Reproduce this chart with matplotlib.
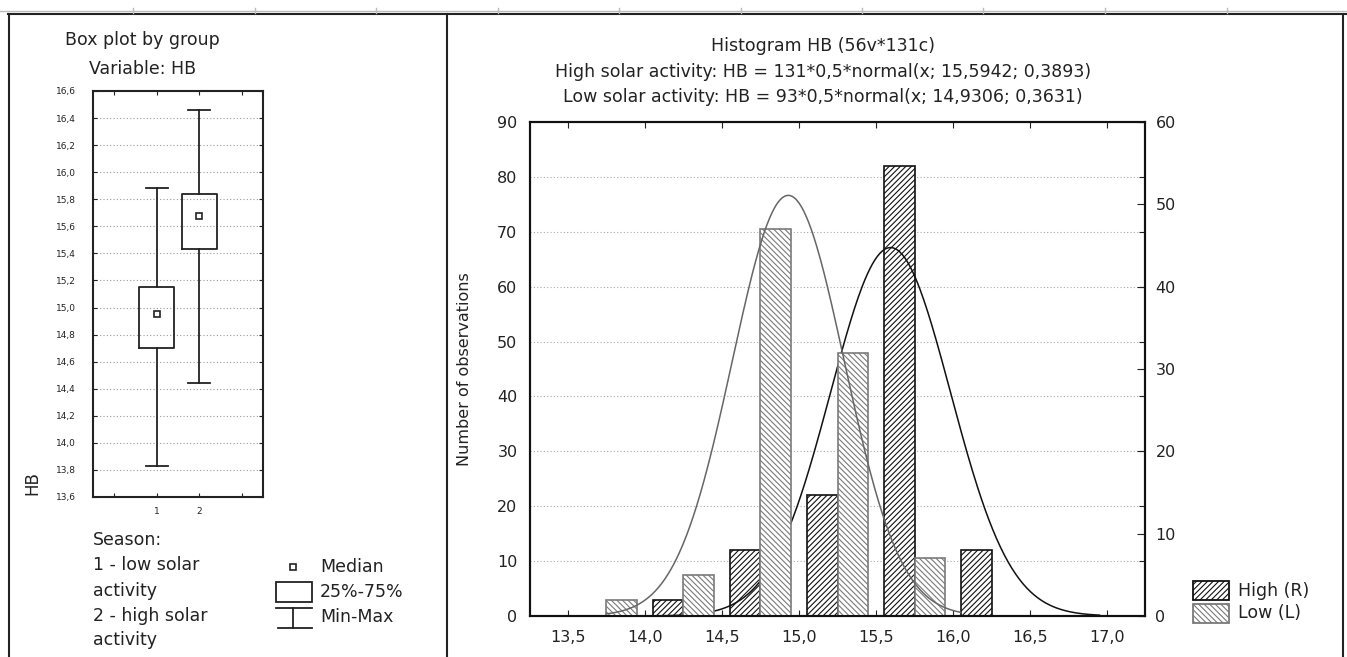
import numpy as np
import matplotlib
matplotlib.use("Agg")
import matplotlib.pyplot as plt
from matplotlib.lines import Line2D
from matplotlib.patches import Rectangle
from matplotlib.ticker import FuncFormatter, MultipleLocator

# ---------------- data ----------------
groups = [1, 2]
box_min = [13.83, 14.44]
box_q1 = [14.70, 15.43]
box_median = [14.95, 15.68]
box_q3 = [15.15, 15.84]
box_max = [15.88, 16.46]

bin_centers = [14.0, 14.5, 15.0, 15.5, 16.0]
high_counts = [3, 12, 22, 82, 12]       # left axis
low_counts = [2, 5, 47, 32, 7]          # right axis

high_n, high_mean, high_sd = 131, 15.5942, 0.3893
low_n, low_mean, low_sd = 93, 14.9306, 0.3631
bin_width = 0.5

hist_xticks = [13.5, 14.0, 14.5, 15.0, 15.5, 16.0, 16.5, 17.0]

W, H = 1347, 657
plt.rcParams['font.family'] = ['DejaVu Sans']
plt.rcParams['hatch.linewidth'] = 0.8
fig = plt.figure(figsize=(W / 100, H / 100), dpi=100)
fig.patch.set_facecolor('white')
TXT = '#222222'
FS = 12.5


def fx(px):
    return px / W


def fy(py):
    return 1 - py / H


def comma(fmt):
    return FuncFormatter(lambda v, p: (fmt % v).replace('.', ','))


# ---------------- frame ----------------
fig.add_artist(Line2D([0, 1], [fy(10.5), fy(10.5)], transform=fig.transFigure, color='#bbbbbb', lw=1))
fig.add_artist(Line2D([fx(8), 1], [fy(13.5), fy(13.5)], transform=fig.transFigure, color='#222222', lw=1.5))
for xx in [9, 447, 1343]:
    fig.add_artist(Line2D([fx(xx), fx(xx)], [fy(13.5), 0], transform=fig.transFigure, color='#222222', lw=1.5))
for xx in np.arange(133, 1347, 121.5):
    fig.add_artist(Line2D([fx(xx), fx(xx)], [fy(8), fy(13)], transform=fig.transFigure, color='#bbbbbb', lw=1))

# ---------------- box plot ----------------
bl, br, bt, bb = 93, 263, 91, 497
axb = fig.add_axes([fx(bl), fy(bb), fx(br - bl), (bb - bt) / H])
stats = []
for i in range(len(groups)):
    stats.append(dict(med=box_median[i], q1=box_q1[i], q3=box_q3[i],
                      whislo=box_min[i], whishi=box_max[i], fliers=[]))
axb.bxp(stats, positions=groups, widths=0.82, capwidths=0.52, showfliers=False,
        boxprops=dict(color='#222222', lw=1.3),
        whiskerprops=dict(color='#222222', lw=1.3),
        capprops=dict(color='#222222', lw=1.3),
        medianprops=dict(lw=0, alpha=0), manage_ticks=False, zorder=3)
axb.plot(groups, box_median, ls='none', marker='s', ms=4, mfc='white', mec='#222222', mew=1.2, zorder=4)
axb.set_xlim(-0.5, 3.5)
axb.set_ylim(13.6, 16.6)
axb.yaxis.set_major_locator(MultipleLocator(0.2))
axb.yaxis.set_major_formatter(comma('%.1f'))
axb.set_xticks([0, 1, 2, 3])
axb.set_xticklabels(['', '1', '2', ''])
axb.tick_params(axis='both', direction='in', labelsize=6.5, length=3, top=True, right=True,
                color='#222222', labelcolor=TXT)
axb.tick_params(axis='y', pad=12.5)
axb.tick_params(axis='x', pad=7)
axb.grid(axis='y', ls=(0, (1, 2)), color='#999999', lw=0.8)
axb.set_axisbelow(True)
for s in axb.spines.values():
    s.set_linewidth(1.5)
    s.set_color('#222222')

fig.text(fx(142), fy(40), 'Box plot by group', ha='center', va='center', fontsize=FS, color=TXT)
fig.text(fx(143), fy(69), 'Variable: HB', ha='center', va='center', fontsize=FS, color=TXT)
fig.text(fx(32), fy(483), 'HB', ha='center', va='center', rotation=90, fontsize=12, color=TXT)

leg_lines = ['Season:', '1 - low solar', 'activity', '2 - high solar', 'activity']
leg_y = [540, 565, 591, 616, 640]
for t, yy in zip(leg_lines, leg_y):
    fig.text(fx(93), fy(yy), t, ha='left', va='center', fontsize=FS, color=TXT)

# box legend symbols
fig.add_artist(Line2D([fx(293)], [fy(567)], transform=fig.transFigure, marker='s', ms=4,
                      mfc='white', mec='#222222', mew=1.2, ls='none'))
fig.add_artist(Rectangle((fx(276), fy(602)), fx(36), (602 - 582) / H, transform=fig.transFigure,
                         fill=False, ec='#222222', lw=1.3))
fig.add_artist(Line2D([fx(276), fx(312)], [fy(608), fy(608)], transform=fig.transFigure, color='#222222', lw=1.3))
fig.add_artist(Line2D([fx(293), fx(293)], [fy(608), fy(628)], transform=fig.transFigure, color='#222222', lw=1.3))
fig.add_artist(Line2D([fx(278), fx(312)], [fy(628), fy(628)], transform=fig.transFigure, color='#222222', lw=1.3))
fig.text(fx(320), fy(567), 'Median', ha='left', va='center', fontsize=FS, color=TXT)
fig.text(fx(320), fy(592), '25%-75%', ha='left', va='center', fontsize=FS, color=TXT)
fig.text(fx(320), fy(617), 'Min-Max', ha='left', va='center', fontsize=FS, color=TXT)

# ---------------- histogram ----------------
hl, hr, ht, hb = 530, 1145, 122, 616
ax = fig.add_axes([fx(hl), fy(hb), fx(hr - hl), (hb - ht) / H])
ax2 = ax.twinx()

centers = np.array(bin_centers)
ax.bar(centers + 0.15, high_counts, width=0.2, facecolor='white', edgecolor='#111111',
       hatch='//////', lw=1.2, zorder=2)
ax2.bar(centers - 0.15, low_counts, width=0.2, facecolor='white', edgecolor='#7a7a7a',
        hatch='\\\\\\\\\\\\', lw=1.2, zorder=2)

xh = np.linspace(13.7, 16.95, 400)
yh = high_n * bin_width * np.exp(-0.5 * ((xh - high_mean) / high_sd) ** 2) / (high_sd * np.sqrt(2 * np.pi))
ax.plot(xh, yh, color='#111111', lw=1.1, zorder=3)
xl = np.linspace(13.75, 16.05, 400)
yl = low_n * bin_width * np.exp(-0.5 * ((xl - low_mean) / low_sd) ** 2) / (low_sd * np.sqrt(2 * np.pi))
ax2.plot(xl, yl, color='#666666', lw=1.1, zorder=3)

ax.set_xlim(13.255, 17.245)
ax.set_ylim(0, 90)
ax2.set_ylim(0, 60)
ax.set_xticks(hist_xticks)
ax.xaxis.set_major_formatter(comma('%.1f'))
ax.set_yticks(np.arange(0, 91, 10))
ax2.set_yticks(np.arange(0, 61, 10))
ax.grid(axis='y', ls=(0, (1, 2)), color='#aaaaaa', lw=0.8)
ax.set_axisbelow(True)
ax.tick_params(axis='x', direction='in', top=True, length=4, labelsize=11.5, pad=10, colors='#222222')
ax.tick_params(axis='y', direction='in', left=False, right=True, length=4, labelsize=11.5, pad=9,
               colors='#222222')
ax2.tick_params(axis='y', direction='in', length=6, labelsize=11.5, pad=7.5, colors='#222222')
for a in (ax, ax2):
    for s in a.spines.values():
        s.set_linewidth(1.5)
        s.set_color('#111111')
ax.set_ylabel('Number of observations', fontsize=11.5, color=TXT)
ax.yaxis.set_label_coords((472 - hl) / (hr - hl), 0.5)

fig.text(fx(823), fy(46), 'Histogram HB (56v*131c)', ha='center', va='center', fontsize=FS, color=TXT)
fig.text(fx(823), fy(72), 'High solar activity: HB = 131*0,5*normal(x; 15,5942; 0,3893)',
         ha='center', va='center', fontsize=FS, color=TXT)
fig.text(fx(823), fy(97), 'Low solar activity: HB = 93*0,5*normal(x; 14,9306; 0,3631)',
         ha='center', va='center', fontsize=FS, color=TXT)

# histogram legend
fig.add_artist(Rectangle((fx(1193), fy(600)), fx(36), (600 - 581) / H, transform=fig.transFigure,
                         facecolor='white', edgecolor='#111111', hatch='//////', lw=1.3))
fig.add_artist(Rectangle((fx(1193), fy(623)), fx(36), (623 - 604) / H, transform=fig.transFigure,
                         facecolor='white', edgecolor='#7a7a7a', hatch='\\\\\\\\\\\\', lw=1.3))
fig.text(fx(1238), fy(591), 'High (R)', ha='left', va='center', fontsize=FS, color=TXT)
fig.text(fx(1238), fy(613), 'Low (L)', ha='left', va='center', fontsize=FS, color=TXT)

fig.savefig('out.png', dpi=100, facecolor='white')
